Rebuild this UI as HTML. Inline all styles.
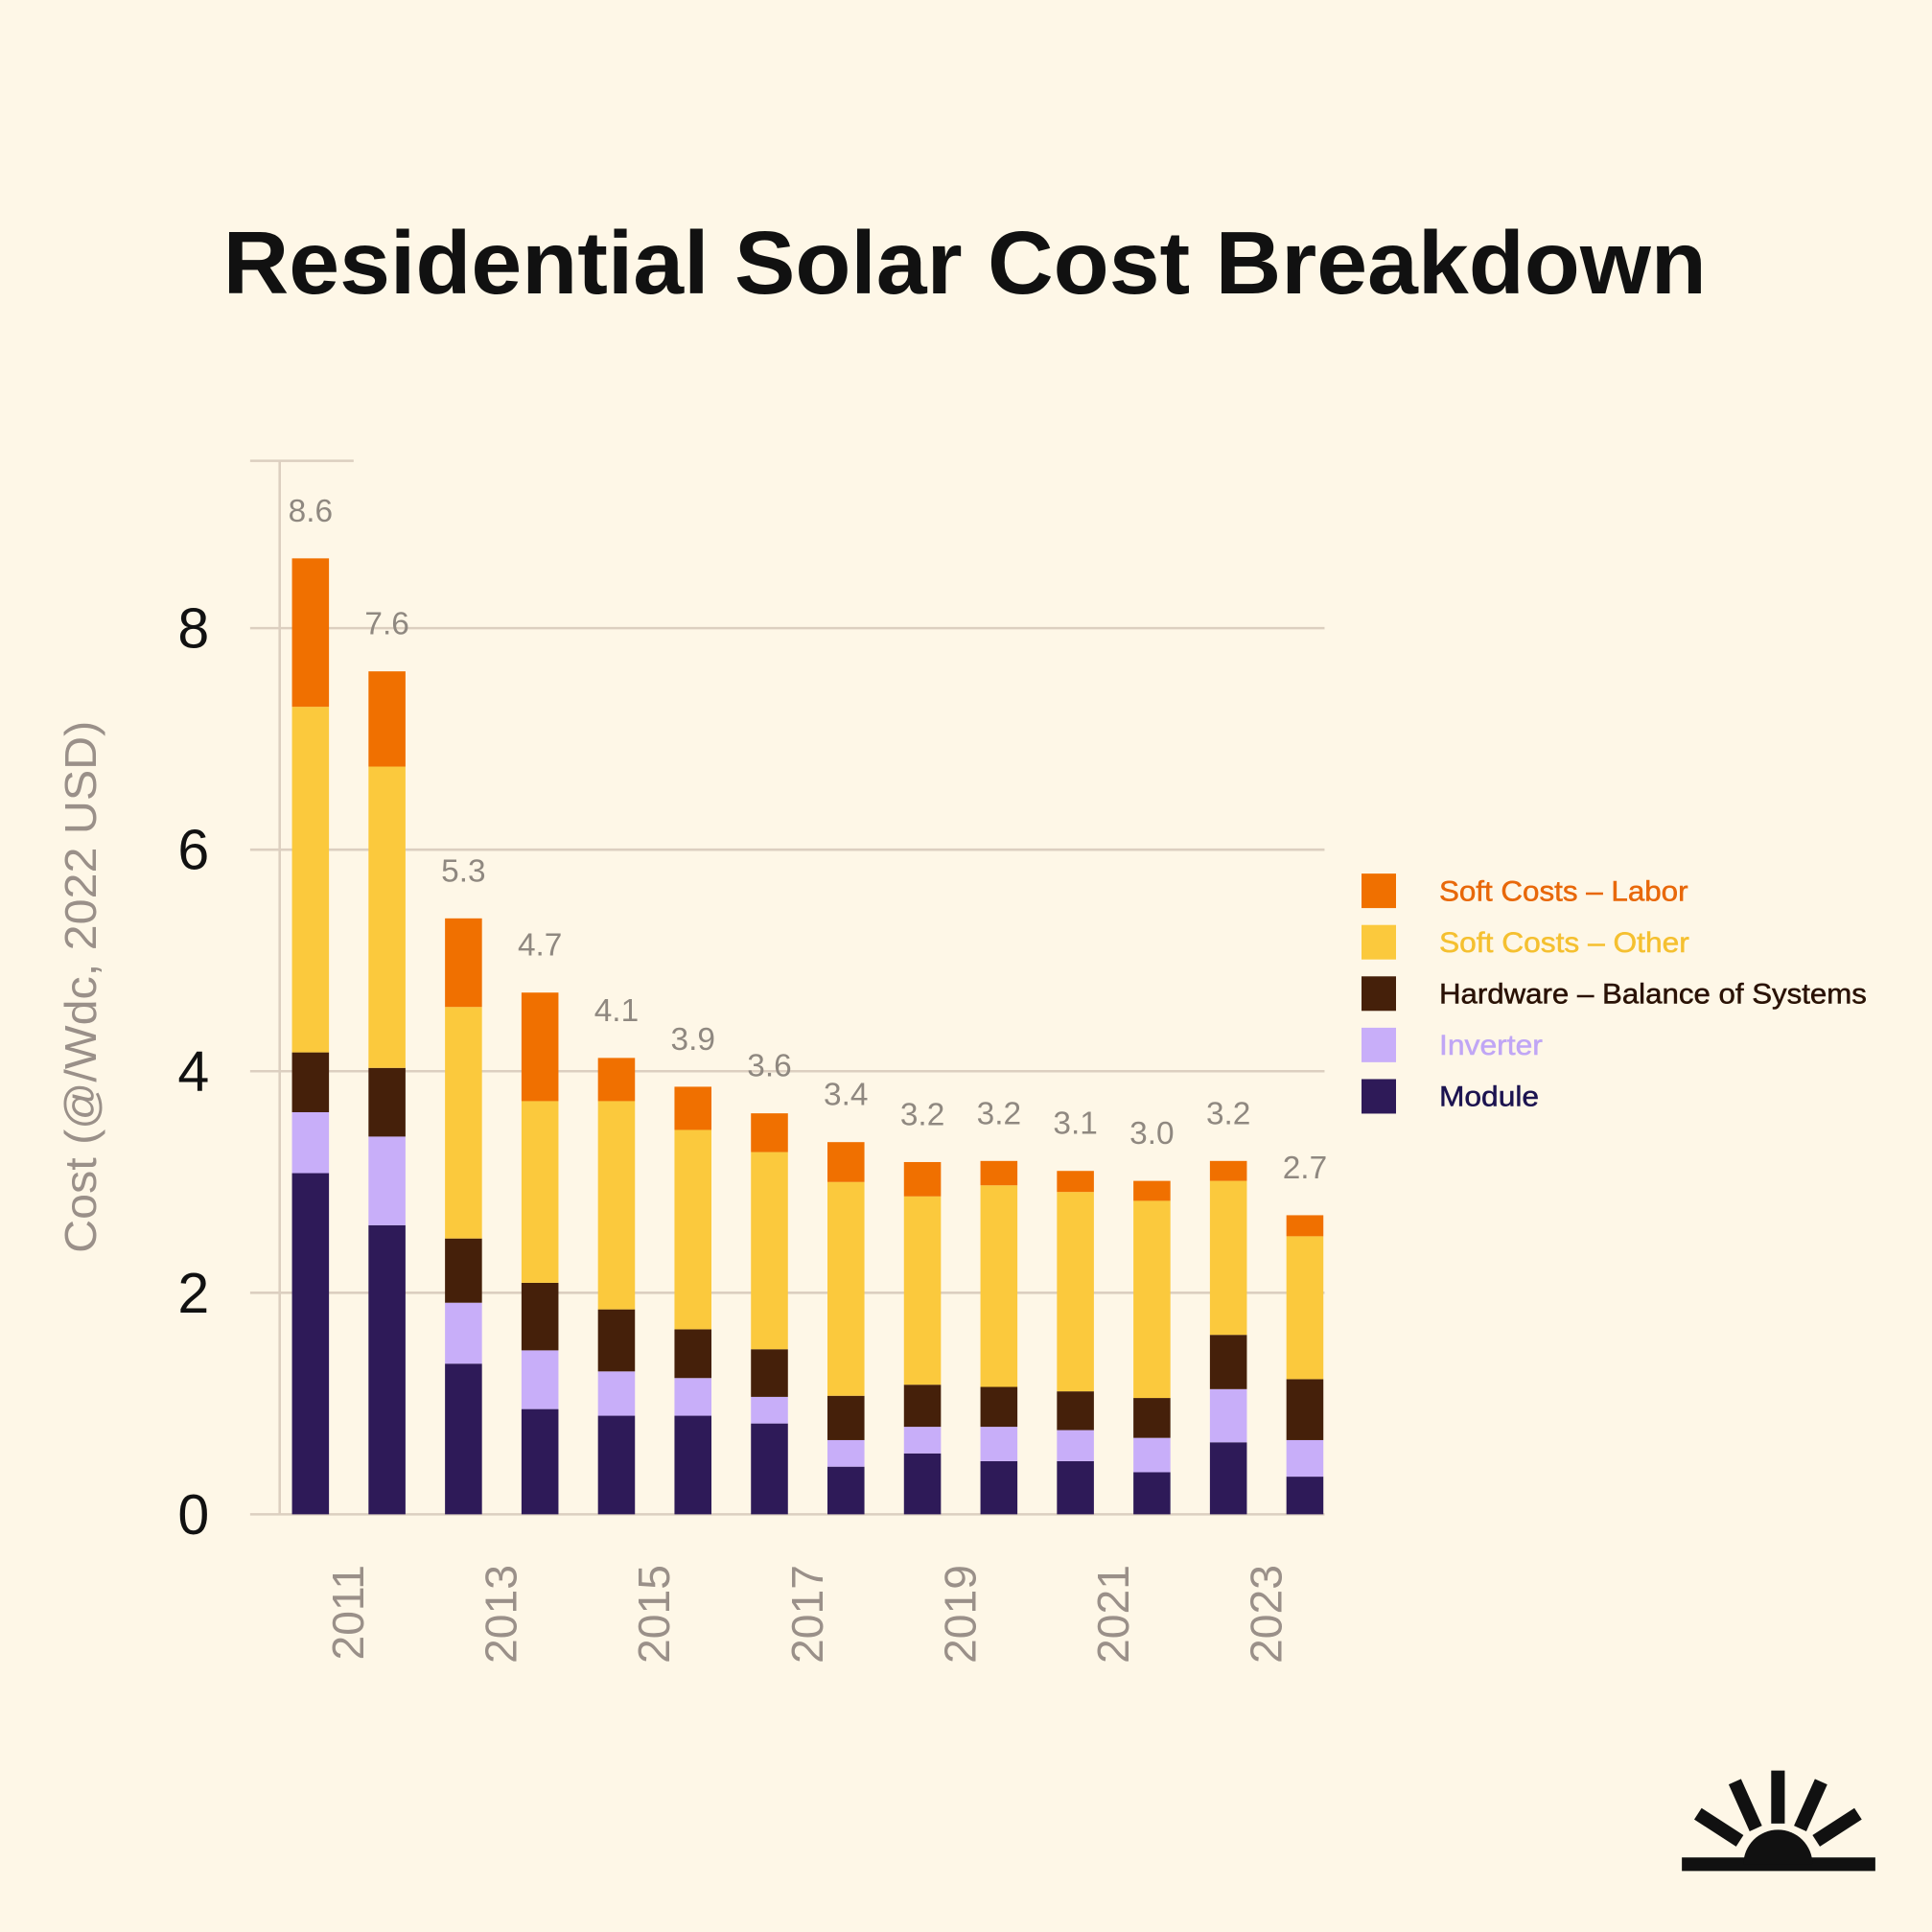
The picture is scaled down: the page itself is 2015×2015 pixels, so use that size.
<!DOCTYPE html>
<html><head><meta charset="utf-8"><style>
html,body{margin:0;padding:0;background:#fef7e7;}
svg{display:block;}
text{font-family:"Liberation Sans",sans-serif;}
</style></head><body>
<svg id="chart" width="2015" height="2015" viewBox="0 0 1568 1568" xmlns="http://www.w3.org/2000/svg">
<rect width="1568" height="1568" fill="#fef7e7"/>
<text x="783" y="238" text-anchor="middle" font-size="72" font-weight="bold" fill="#111" textLength="1204" lengthAdjust="spacingAndGlyphs">Residential Solar Cost Breakdown</text>
<g id="grid"></g>
<g id="bars"></g>
<g id="labels"></g>
<text transform="translate(78,801) rotate(-90)" text-anchor="middle" font-size="36" fill="#9a9089" textLength="432" lengthAdjust="spacingAndGlyphs">Cost (@/Wdc, 2022 USD)</text>
<g id="legend"></g>
<g stroke="#111" stroke-width="11" fill="none" stroke-linecap="butt">
<line x1="1365" y1="1513" x2="1522" y2="1513"/>
<path d="M1415,1513 A28,28 0 0 1 1471,1513 Z" fill="#111" stroke="none"/>
<line x1="1443" y1="1480" x2="1443" y2="1437"/>
<line x1="1425" y1="1484" x2="1408" y2="1446"/>
<line x1="1461" y1="1484" x2="1478" y2="1446"/>
<line x1="1412" y1="1494" x2="1378" y2="1472"/>
<line x1="1474" y1="1494" x2="1508" y2="1472"/>
</g>
</svg>
<script>
const years = [2011,2012,2013,2014,2015,2016,2017,2018,2019,2020,2021,2022,2023,2024];
const module_ = [3.08,2.61,1.36,0.95,0.89,0.89,0.82,0.43,0.55,0.48,0.48,0.38,0.65,0.34];
const inverter = [0.55,0.80,0.55,0.53,0.40,0.34,0.24,0.24,0.24,0.31,0.28,0.31,0.48,0.33];
const bos = [0.54,0.62,0.58,0.61,0.56,0.44,0.43,0.40,0.38,0.36,0.35,0.36,0.49,0.55];
const softOther = [3.12,2.72,2.09,1.64,1.88,1.80,1.78,1.93,1.70,1.82,1.80,1.78,1.39,1.29];
const softLabor = [1.34,0.86,0.80,0.98,0.39,0.39,0.35,0.36,0.31,0.22,0.19,0.18,0.18,0.19];
const totalLabels = ["8.6","7.6","5.3","4.7","4.1","3.9","3.6","3.4","3.2","3.2","3.1","3.0","3.2","2.7"];
const yTicks = [0,2,4,6,8];
const xTickLabels = ["2011","2013","2015","2017","2019","2021","2023"];

const NS="http://www.w3.org/2000/svg";
const y0=1229, unit=89.9, x0=252, step=62.08, bw=30;
const yS=v=>y0-v*unit;
const xS=i=>x0+i*step;
function mk(tag,attrs,parent){const e=document.createElementNS(NS,tag);for(const k in attrs)e.setAttribute(k,attrs[k]);parent.appendChild(e);return e;}
const grid=document.getElementById('grid'),bars=document.getElementById('bars'),labels=document.getElementById('labels'),legend=document.getElementById('legend');
yTicks.forEach(t=>{
  const l=mk('line',{x1:203,x2:1075,y1:yS(t),y2:yS(t),stroke:'#dccfc0','stroke-width':2},grid);
  
  
  const tx=mk('text',{x:157,y:yS(t)+16,'text-anchor':'middle','font-size':46,fill:'#111'},grid);
  tx.textContent=t;
  
  
});
const topLine=mk('line',{x1:203,x2:287,y1:374,y2:374,stroke:'#dccfc0','stroke-width':2},grid);


const axLine=mk('line',{x1:227,x2:227,y1:374,y2:1229,stroke:'#dccfc0','stroke-width':2},grid);


const series=[["module",module_,"#2e1a58"],["inverter",inverter,"#c8aef9"],["bos",bos,"#45200a"],["soft-other",softOther,"#fbc93d"],["soft-labor",softLabor,"#f07000"]];
years.forEach((yr,i)=>{
  let cum=0;
  series.forEach(([nm,arr,col])=>{
    const v=arr[i];
    const r=mk('rect',{x:xS(i)-bw/2,y:yS(cum+v),width:bw,height:v*unit,fill:col},bars);
    
    
    cum+=v;
  });
  const t=mk('text',{x:xS(i),y:yS(cum)-30,'text-anchor':'middle','font-size':26,fill:'#8f8880'},labels);
  t.textContent=totalLabels[i];
  
  
});
xTickLabels.forEach((lab,k)=>{
  const x=xS(k*2)+31+12;
  const t=mk('text',{transform:`translate(${x},1270) rotate(-90)`,'text-anchor':'end','font-size':36,fill:'#9a9089'},labels);
  t.textContent=lab;
  
  
});
const leg=[["Soft Costs – Labor","#f07000","#e8680a",202],["Soft Costs – Other","#fbc93d","#f5c030",203],["Hardware – Balance of Systems","#45200a","#2a1205",347],["Inverter","#c8aef9","#c0a6f5",84],["Module","#2e1a58","#1c1450",81]];
leg.forEach(([lab,col,tc,len],k)=>{
  const y=709+k*41.7;
  const r=mk('rect',{x:1105,y:y,width:28,height:28,fill:col},legend);
  
  
  const t=mk('text',{x:1168,y:y+22,'font-size':23,fill:tc,stroke:tc,'stroke-width':0.4,textLength:len,lengthAdjust:'spacingAndGlyphs'},legend);
  t.textContent=lab;
  
  
});
</script>
</body></html>
